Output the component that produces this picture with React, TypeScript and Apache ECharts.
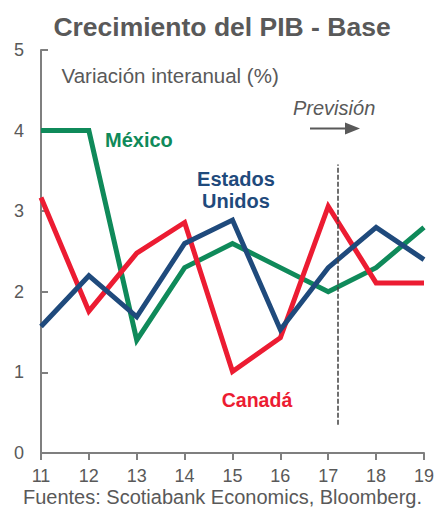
import React, { useEffect, useRef } from "react";
import * as echarts from "echarts";

const years = [11, 12, 13, 14, 15, 16, 17, 18, 19];
const mexico = [4.0, 4.0, 1.4, 2.3, 2.6, 2.3, 2.0, 2.3, 2.8];
const estadosUnidos = [1.57, 2.2, 1.69, 2.6, 2.89, 1.53, 2.3, 2.8, 2.4];
const canada = [3.17, 1.76, 2.48, 2.86, 1.01, 1.43, 3.06, 2.11, 2.11];
const forecastX = 17.19;
const forecastSpan = [0.35, 3.58];

const GREEN = "#0f8a5a";
const BLUE = "#1f4a7c";
const RED = "#ec1c32";
const GREY = "#595959";
const FONT = "'Liberation Sans', Arial, sans-serif";

export default function App() {
  const ref = useRef<HTMLDivElement>(null);
  useEffect(() => {
    document.body.style.margin = "0";
    if (!ref.current) return;
    const chart = echarts.init(ref.current, null, { renderer: "svg" });
    const mk = (name: string, vals: number[], color: string) => ({
      name,
      type: "line",
      data: years.map((y, i) => [y, vals[i]]),
      symbol: "none",
      lineStyle: { color, width: 5, join: "miter" },
      itemStyle: { color },
      z: 3,
    });
    const txt = (text: string, x: number, y: number, font: string, fill: string, align = "left") => ({
      type: "text",
      x,
      y,
      style: { text, fill, font, align, verticalAlign: "middle", lineHeight: 22.5 },
    });
    chart.setOption({
      animation: false,
      textStyle: { fontFamily: FONT },
      grid: { left: 41, right: 12, top: 50, bottom: 55 },
      xAxis: {
        type: "value",
        min: 11,
        max: 19,
        interval: 1,
        axisLine: { show: true, lineStyle: { color: "#7f7f7f", width: 2 } },
        axisTick: { show: true, length: 7, lineStyle: { color: "#7f7f7f", width: 2 } },
        axisLabel: { color: GREY, fontSize: 18, margin: 14, fontFamily: FONT },
        splitLine: { show: false },
      },
      yAxis: {
        type: "value",
        min: 0,
        max: 5,
        interval: 1,
        axisLine: { show: true, lineStyle: { color: "#7f7f7f", width: 2 } },
        axisTick: { show: true, inside: true, length: 7, lineStyle: { color: "#7f7f7f", width: 2 } },
        axisLabel: { color: GREY, fontSize: 18, margin: 17, fontFamily: FONT },
        splitLine: { show: false },
      },
      series: [
        {
          ...mk("México", mexico, GREEN),
          markLine: {
            silent: true,
            symbol: "none",
            label: { show: false },
            lineStyle: { color: "#404040", type: [5, 2], width: 1.5 },
            data: [[{ coord: [forecastX, forecastSpan[0]] }, { coord: [forecastX, forecastSpan[1]] }]],
          },
        },
        mk("Canadá", canada, RED),
        mk("Estados Unidos", estadosUnidos, BLUE),
      ],
      graphic: [
        txt("Crecimiento del PIB - Base", 222, 27, `bold 26.5px ${FONT}`, GREY, "center"),
        txt("Variación interanual (%)", 61.5, 75.5, `20.5px ${FONT}`, GREY),
        txt("Previsión", 293, 107.5, `italic 20px ${FONT}`, GREY),
        {
          type: "line",
          shape: { x1: 310, y1: 128.5, x2: 348, y2: 128.5 },
          style: { stroke: GREY, lineWidth: 2 },
        },
        {
          type: "polygon",
          shape: { points: [[345, 122.5], [360, 128.5], [345, 134.5]] },
          style: { fill: GREY },
        },
        txt("México", 105, 140, `bold 20px ${FONT}`, GREEN),
        txt("Estados\nUnidos", 236, 190, `bold 20px ${FONT}`, BLUE, "center"),
        txt("Canadá", 257, 400, `bold 19.5px ${FONT}`, RED, "center"),
        txt("Fuentes: Scotiabank Economics, Bloomberg.", 222.5, 497, `20px ${FONT}`, GREY, "center"),
      ],
    });
    return () => chart.dispose();
  }, []);
  return <div ref={ref} style={{ width: 437, height: 508 }} />;
}
